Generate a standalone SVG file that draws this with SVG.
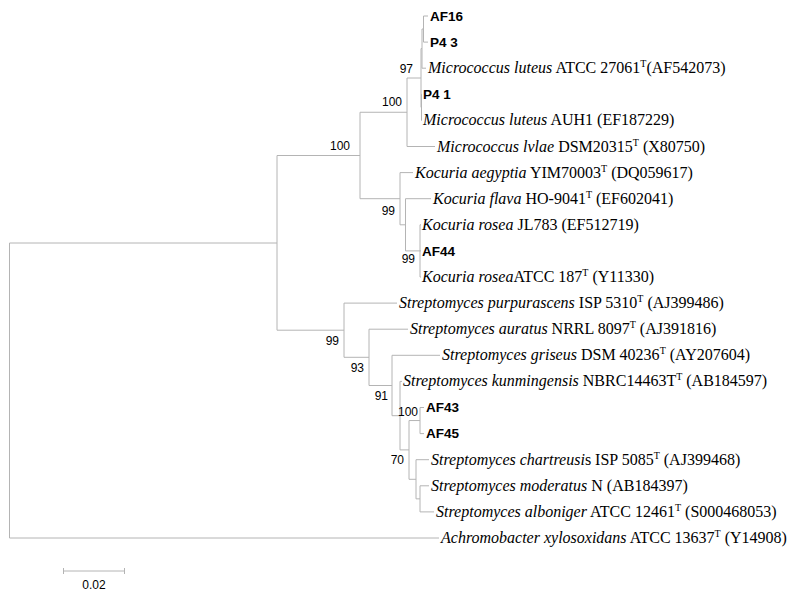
<svg xmlns="http://www.w3.org/2000/svg" width="800" height="595" viewBox="0 0 800 595">
<style>
.ln{fill:none;stroke:#b4b4b4;stroke-width:1}
.sp{font-family:"Liberation Serif","Times New Roman",serif;font-size:16px;fill:#000}
.it{font-style:italic}
.sup{font-size:10px}
.b{font-family:"Liberation Sans",Arial,sans-serif;font-size:13.5px;font-weight:bold;fill:#000}
.bs{font-family:"Liberation Sans",Arial,sans-serif;font-size:12px;fill:#000}
</style>
<rect width="800" height="595" fill="#fff"/>
<g id="connectors" class="ln">
<path d="M9.5,243V538M9.5,243H277M9.5,538H439"/>
<path d="M277,155.5V330.2M277,155.5H360M360,112.25V198.7"/>
<path d="M360,112.25H407M407,78V146.5M407,146.5H435"/>
<path d="M407,78H421M421,48.6V107.35M421,48.6H422M422,29V68.2M422,29H423.5M423.5,16V42.1M423.5,16H428M423.5,42.1H428M422,68.2H426"/>
<path d="M421,107.35H421.5M421.5,94.3V120.4M421.5,94.3H422M421.5,120.4H422"/>
<path d="M360,198.7H400M400,172.6V224.8M400,172.6H413M400,224.8H405.5M405.5,198.7V250.9M405.5,198.7H431M405.5,250.9H420M420,224.8V277M420,224.8H421M420,250.9H421M420,277H421"/>
<path d="M277,330.2H344M344,303.1V357.3M344,303.1H397M344,357.3H369M369,329.2V385.5M369,329.2H408M369,385.5H392M392,355.3V415.7M392,355.3H440"/>
<path d="M392,415.7H400M400,381.4V449.9M400,381.4H402M400,449.9H409M409,420.55V479.3M409,420.55H420M420,407.5V433.6M420,407.5H424M420,433.6H424"/>
<path d="M409,479.3H416M416,459.7V498.85M416,459.7H429M416,498.85H420M420,485.8V511.9M420,485.8H429M420,511.9H434"/>
<path d="M63.5,571H124.5M63.5,568V574M124.5,568V574"/>
</g>
<g id="leaf-AF16"><text class="b" x="430" y="20.8">AF16</text></g>
<g id="leaf-P43"><text class="b" x="430" y="46.9">P4 3</text></g>
<g id="leaf-Mluteus-ATCC"><text class="sp" x="428" y="73.2"><tspan class="it">Micrococcus luteus</tspan> ATCC 27061<tspan class="sup" dy="-6">T</tspan><tspan dy="6">(AF542073)</tspan></text></g>
<g id="leaf-P41"><text class="b" x="423" y="99.1">P4 1</text></g>
<g id="leaf-Mluteus-AUH1"><text class="sp" x="423" y="125.4"><tspan class="it">Micrococcus luteus</tspan> AUH1 (EF187229)</text></g>
<g id="leaf-Mlylae"><text class="sp" x="437" y="151.5"><tspan class="it">Micrococcus lvlae</tspan> DSM20315<tspan class="sup" dy="-6">T</tspan><tspan dy="6"> (X80750)</tspan></text></g>
<g id="leaf-Kaegyptia"><text class="sp" x="415" y="177.6"><tspan class="it">Kocuria aegyptia</tspan> YIM70003<tspan class="sup" dy="-6">T</tspan><tspan dy="6"> (DQ059617)</tspan></text></g>
<g id="leaf-Kflava"><text class="sp" x="433" y="203.7"><tspan class="it">Kocuria flava</tspan> HO-9041<tspan class="sup" dy="-6">T</tspan><tspan dy="6"> (EF602041)</tspan></text></g>
<g id="leaf-Krosea-JL783"><text class="sp" x="422" y="229.8"><tspan class="it">Kocuria rosea</tspan> JL783 (EF512719)</text></g>
<g id="leaf-AF44"><text class="b" x="422" y="255.7">AF44</text></g>
<g id="leaf-Krosea-ATCC"><text class="sp" x="422" y="282"><tspan class="it">Kocuria rosea</tspan>ATCC 187<tspan class="sup" dy="-6">T</tspan><tspan dy="6"> (Y11330)</tspan></text></g>
<g id="leaf-Spurpurascens"><text class="sp" x="399" y="308.1"><tspan class="it">Streptomyces purpurascens</tspan> ISP 5310<tspan class="sup" dy="-6">T</tspan><tspan dy="6"> (AJ399486)</tspan></text></g>
<g id="leaf-Sauratus"><text class="sp" x="410" y="334.2"><tspan class="it">Streptomyces auratus</tspan> NRRL 8097<tspan class="sup" dy="-6">T</tspan><tspan dy="6"> (AJ391816)</tspan></text></g>
<g id="leaf-Sgriseus"><text class="sp" x="442" y="360.3"><tspan class="it">Streptomyces griseus</tspan> DSM 40236<tspan class="sup" dy="-6">T</tspan><tspan dy="6"> (AY207604)</tspan></text></g>
<g id="leaf-Skunmingensis"><text class="sp" x="403" y="386.4"><tspan class="it">Streptomyces kunmingensis</tspan> NBRC14463T<tspan class="sup" dy="-6">T</tspan><tspan dy="6"> (AB184597)</tspan></text></g>
<g id="leaf-AF43"><text class="b" x="426" y="412.3">AF43</text></g>
<g id="leaf-AF45"><text class="b" x="426" y="438.4">AF45</text></g>
<g id="leaf-Schartreusis"><text class="sp" x="431" y="464.7"><tspan class="it">Streptomyces chartreusi</tspan>s ISP 5085<tspan class="sup" dy="-6">T</tspan><tspan dy="6"> (AJ399468)</tspan></text></g>
<g id="leaf-Smoderatus"><text class="sp" x="431" y="490.8"><tspan class="it">Streptomyces moderatus</tspan> N (AB184397)</text></g>
<g id="leaf-Salboniger"><text class="sp" x="436" y="516.9"><tspan class="it">Streptomyces alboniger</tspan> ATCC 12461<tspan class="sup" dy="-6">T</tspan><tspan dy="6"> (S000468053)</tspan></text></g>
<g id="leaf-Achromobacter"><text class="sp" x="441" y="543"><tspan class="it">Achromobacter xylosoxidans</tspan> ATCC 13637<tspan class="sup" dy="-6">T</tspan><tspan dy="6"> (Y14908)</tspan></text></g>
<g id="bootstrap" class="bs" text-anchor="end">
<text x="350" y="150">100</text>
<text x="402" y="106">100</text>
<text x="413" y="73">97</text>
<text x="395" y="215">99</text>
<text x="415" y="263">99</text>
<text x="339" y="345">99</text>
<text x="364" y="372">93</text>
<text x="388" y="400">91</text>
<text x="418" y="416">100</text>
<text x="404" y="464">70</text>
</g>
<g id="scale"><text class="bs" x="94" y="589" text-anchor="middle">0.02</text></g>
</svg>
